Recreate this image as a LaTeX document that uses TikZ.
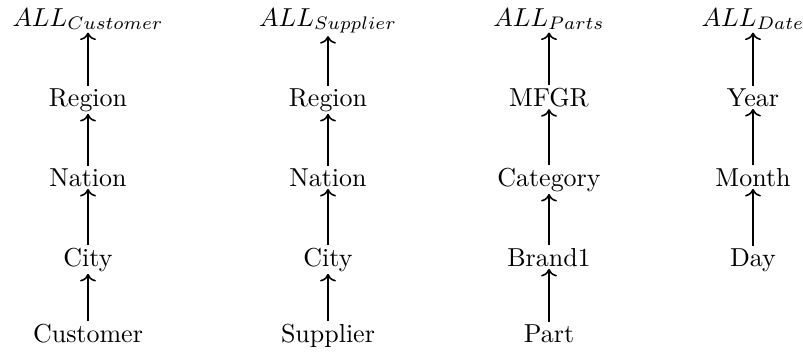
\documentclass[tikz,border=0pt]{standalone}
\usetikzlibrary{arrows.meta, positioning}
\begin{document}
\begin{tikzpicture}[
        x=0.385pt, y=-0.385pt,
        every node/.style={font=\normalsize},
        lvl/.style={inner sep=0.8pt, anchor=base},
        arr/.style={->, semithick}
    ]
    \useasboundingbox (0,0) rectangle (803,353);

    % Customer hierarchy
    \node[lvl] (custall)    at (88,26)  {$ALL_{Customer}$};
    \node[lvl] (custregion) at (88,106) {Region};
    \node[lvl] (custnation) at (88,186) {Nation};
    \node[lvl] (custcity)   at (88,266) {City};
    \node[lvl] (cust)       at (88,342) {Customer};

    % Supplier hierarchy
    \node[lvl] (suppall)    at (328,26)  {$ALL_{Supplier}$};
    \node[lvl] (suppregion) at (328,106) {Region};
    \node[lvl] (suppnation) at (328,186) {Nation};
    \node[lvl] (suppcity)   at (328,266) {City};
    \node[lvl] (supp)       at (328,342) {Supplier};

    % Parts hierarchy
    \node[lvl] (partall)    at (549,26)  {$ALL_{Parts}$};
    \node[lvl] (partmfgr)   at (549,106) {MFGR};
    \node[lvl] (partcat)    at (549,186) {Category};
    \node[lvl] (partbrand)  at (549,266) {Brand1};
    \node[lvl] (part)       at (549,342) {Part};

    % Date hierarchy
    \node[lvl] (dateall)    at (753,26)  {$ALL_{Date}$};
    \node[lvl] (dateyear)   at (753,106) {Year};
    \node[lvl] (datemonth)  at (753,186) {Month};
    \node[lvl] (dateday)    at (753,266) {Day};

    \draw[arr] (cust)       -- (custcity);
    \draw[arr] (custcity)   -- (custnation);
    \draw[arr] (custnation) -- (custregion);
    \draw[arr] (custregion) -- (custall);

    \draw[arr] (supp)       -- (suppcity);
    \draw[arr] (suppcity)   -- (suppnation);
    \draw[arr] (suppnation) -- (suppregion);
    \draw[arr] (suppregion) -- (suppall);

    \draw[arr] (part)       -- (partbrand);
    \draw[arr] (partbrand)  -- (partcat);
    \draw[arr] (partcat)    -- (partmfgr);
    \draw[arr] (partmfgr)   -- (partall);

    \draw[arr] (dateday)    -- (datemonth);
    \draw[arr] (datemonth)  -- (dateyear);
    \draw[arr] (dateyear)   -- (dateall);
\end{tikzpicture}
\end{document}
